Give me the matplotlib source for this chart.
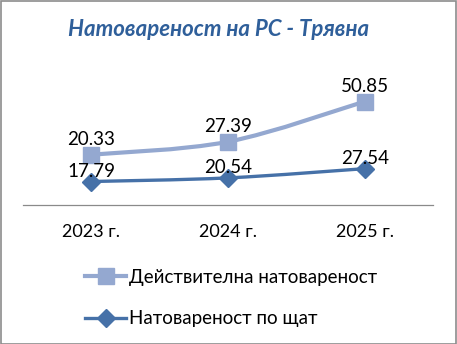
import matplotlib
matplotlib.use("Agg")
import matplotlib.pyplot as plt
import numpy as np
from matplotlib.path import Path
from matplotlib.patches import PathPatch, Rectangle
from matplotlib.lines import Line2D
from matplotlib.transforms import IdentityTransform

plt.rcParams['font.family'] = ['Lato', 'Open Sans', 'DejaVu Sans']

categories = ["2023 г.", "2024 г.", "2025 г."]
staff_load = [17.79, 20.54, 27.54]      # Натовареност по щат (bottom series)
actual_load = [20.33, 27.39, 50.85]     # Действителна натовареност (stacked on top)
title = "Натовареност на РС - Трявна"
name_actual = "Действителна натовареност"
name_staff = "Натовареност по щат"

W, H = 457, 344
fig = plt.figure(figsize=(W / 100, H / 100), dpi=100)
fig.patch.set_facecolor("white")
fig.add_artist(Rectangle((0.5 / W, 0.5 / H), 1 - 1.5 / W, 1 - 1.5 / H, transform=fig.transFigure,
                         fill=False, edgecolor="#8c8c8c", linewidth=1.2))

ax = fig.add_axes([23 / W, 139 / H, 410 / W, 132 / H])
ax.set_xlim(-0.5, 2.5)
ax.set_ylim(0, 100)
for s in ["top", "right", "left"]:
    ax.spines[s].set_visible(False)
ax.spines["bottom"].set_color("#8a8a8a")
ax.spines["bottom"].set_linewidth(0.9)
ax.set_yticks([])
x = np.arange(len(categories))
ax.set_xticks(x)
ax.set_xticklabels(categories, fontsize=13)
ax.tick_params(axis="x", length=0, pad=14)

c_actual = "#94A8D0"
c_staff = "#4671A8"

bottom_vals = np.array(staff_load)
top_vals = bottom_vals + np.array(actual_load)

fig.canvas.draw()

def smooth_path(xs, ys):
    pts = ax.transData.transform(np.column_stack([xs, ys]))
    n = len(pts)
    verts = [pts[0]]
    codes = [Path.MOVETO]
    t = 1 / 6
    for i in range(n - 1):
        p0 = pts[i - 1] if i > 0 else pts[i]
        p1 = pts[i]
        p2 = pts[i + 1]
        p3 = pts[i + 2] if i + 2 < n else pts[i + 1]
        c1 = p1 + (p2 - p0) * t
        c2 = p2 - (p3 - p1) * t
        verts += [c1, c2, p2]
        codes += [Path.CURVE4] * 3
    return Path(verts, codes)

ax.add_artist(PathPatch(smooth_path(x, top_vals), transform=IdentityTransform(), fill=False,
                        edgecolor=c_actual, linewidth=3.0, capstyle="round", zorder=2))
ax.add_artist(PathPatch(smooth_path(x, bottom_vals), transform=IdentityTransform(), fill=False,
                        edgecolor=c_staff, linewidth=2.4, capstyle="round", zorder=3))
ax.plot(x, top_vals, linestyle="none", marker="s", markersize=11.5, color=c_actual, zorder=4, clip_on=False)
ax.plot(x, bottom_vals, linestyle="none", marker="D", markersize=9, color=c_staff, zorder=5, clip_on=False)

for xi, yv, v in zip(x, top_vals, actual_load):
    ax.annotate(f"{v:.2f}", (xi, yv), xytext=(0, 4.5), textcoords="offset points",
                ha="center", va="bottom", fontsize=13.5, color="black", zorder=6)
for xi, yv, v in zip(x, bottom_vals, staff_load):
    ax.annotate(f"{v:.2f}", (xi, yv), xytext=(0, 1), textcoords="offset points",
                ha="center", va="bottom", fontsize=13.5, color="black", zorder=6)

fig.text(219 / W, 1 - 29 / H, title, ha="center", va="center", fontsize=16,
         fontweight="bold", fontstyle="italic", color="#2F5F9A")

handles = [Line2D([], [], color=c_actual, linewidth=3.0, marker="s", markersize=11.5),
           Line2D([], [], color=c_staff, linewidth=2.4, marker="D", markersize=9)]
fig.legend(handles, [name_actual, name_staff], loc="upper left",
           bbox_to_anchor=(85 / W, 1 - 269 / H), frameon=False, fontsize=13.5,
           handlelength=2.2, handletextpad=0.15, labelspacing=1.3, borderpad=0,
           borderaxespad=0)

fig.savefig("out.png", dpi=100, facecolor="white")
